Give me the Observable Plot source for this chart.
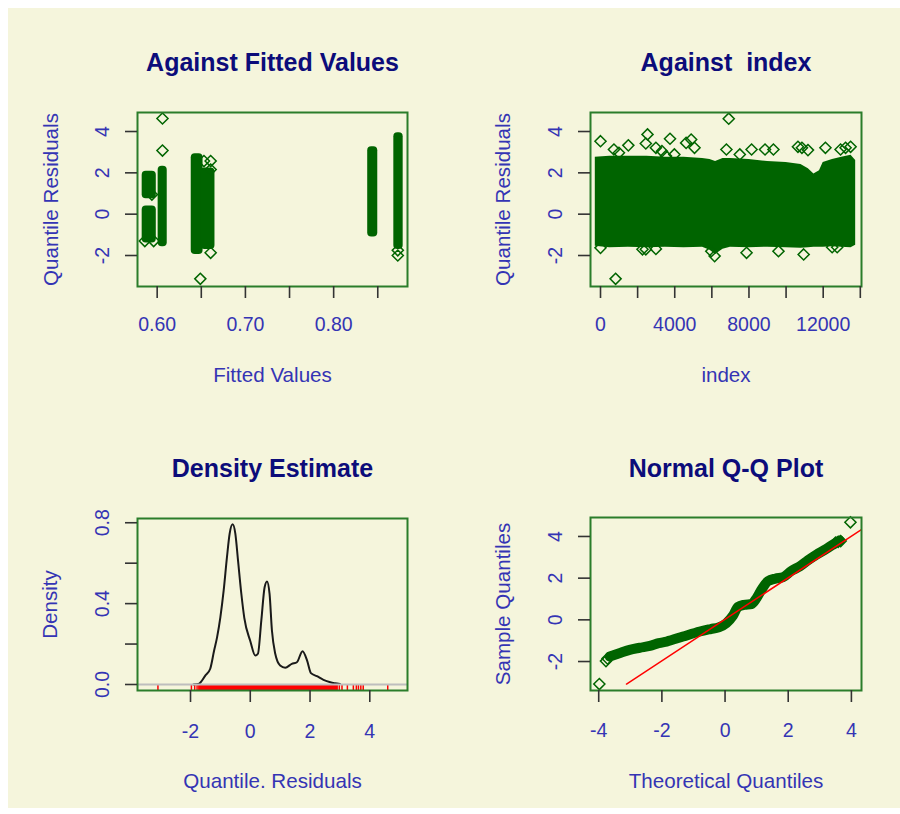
<!DOCTYPE html>
<html><head><meta charset="utf-8">
<script src="https://cdn.jsdelivr.net/npm/d3@7"></script>
<script src="https://cdn.jsdelivr.net/npm/@observablehq/plot@0.6"></script>
<style>
body{margin:0;background:#fff;}
#wrap{position:relative;width:900px;height:814px;background:#fff;overflow:hidden;}
#bg{position:absolute;left:8px;top:8px;width:892px;height:800px;background:#f5f5dc;}
</style></head><body>
<div id="wrap"><div id="bg"></div></div>
<script>
// ---------- Panel 1: Against Fitted Values ----------
const fitClusterX1 = [0.583, 0.583, 0.6011, 0.6386, 0.6495, 0.8386, 0.8682];
const fitClusterX2 = [0.599, 0.599, 0.6114, 0.6520, 0.6655, 0.8500, 0.8788];
const fitClusterY1 = [0.75, -1.39, -1.58, -1.95, -1.71, -1.11, -1.71];
const fitClusterY2 = [2.08, 0.40, 2.32, 2.92, 2.24, 3.26, 3.94];
const fitOutX = [0.606, 0.606, 0.653, 0.6606, 0.6606, 0.6606, 0.6489, 0.8727, 0.8727, 0.594, 0.586, 0.596];
const fitOutY = [4.63, 3.08, 2.57, 2.57, 2.16, -1.87, -3.13, -2.0, -1.75, 0.95, -1.30, -1.30];
const fitTicks = [0.60, 0.65, 0.70, 0.75, 0.80, 0.85];
const fitTickLabels = [0.60, 0.70, 0.80];
const residTicks = [-2, 0, 2, 4];

// ---------- Panel 2: Against index ----------
const idxBandI  = [-280, 500, 1500, 2500, 3500, 4500, 5500, 5900, 6200, 6600, 7000, 8000, 9000, 10000, 10800, 11200, 11500, 11800, 12000, 12500, 13000, 13500, 13750];
const idxBandHi = [2.75, 2.8, 2.8, 2.8, 2.75, 2.75, 2.7, 2.65, 2.55, 2.7, 2.7, 2.65, 2.55, 2.5, 2.4, 2.2, 1.95, 2.1, 2.5, 2.65, 2.75, 2.85, 2.6];
const idxBandLo = [-1.55, -1.62, -1.6, -1.62, -1.6, -1.62, -1.6, -1.75, -1.95, -1.7, -1.6, -1.62, -1.6, -1.62, -1.65, -1.62, -1.6, -1.6, -1.6, -1.58, -1.6, -1.62, -1.5];
const idxOutI = [0, 724, 993, 1500, 2442, 2533, 2985, 3310, 3528, 3745, 3980, 4613, 4885, 5066, 6784, 6910, 7506, 8141, 8865, 9318, 10640, 10854, 11180, 12120, 12935, 13206, 13477,
                 0, 2262, 2442, 2985, 5970, 6150, 7870, 9590, 10947, 12483, 12754, 814];
const idxOutY = [3.53, 3.13, 2.97, 3.33, 3.42, 3.86, 3.21, 3.05, 2.81, 3.65, 2.89, 3.45, 3.61, 3.21, 3.13, 4.62, 2.89, 3.13, 3.13, 3.13, 3.26, 3.21, 3.1, 3.21, 3.13, 3.21, 3.26,
                 -1.63, -1.7, -1.7, -1.68, -1.79, -2.03, -1.87, -1.79, -1.95, -1.6, -1.6, -3.13];
const idxTicks = [0, 2000, 4000, 6000, 8000, 10000, 12000, 14000];
const idxTickLabels = [0, 4000, 8000, 12000];

// ---------- Panel 3: Density Estimate ----------
const densX = [-1.9, -1.73, -1.5, -1.34, -1.21, -1.11, -1.0, -0.89, -0.78, -0.69, -0.59, -0.50, -0.41, -0.30, -0.2, 0.0, 0.167, 0.256, 0.37, 0.48, 0.56, 0.645, 0.725, 0.836, 1.0, 1.17, 1.39, 1.56, 1.75, 1.90, 2.03, 2.23, 2.45, 2.68, 2.84, 3.0];
const densY = [0, 0.003, 0.045, 0.078, 0.168, 0.234, 0.333, 0.465, 0.63, 0.746, 0.792, 0.746, 0.614, 0.45, 0.33, 0.215, 0.143, 0.152, 0.317, 0.481, 0.51, 0.449, 0.267, 0.152, 0.094, 0.083, 0.102, 0.11, 0.165, 0.119, 0.056, 0.041, 0.023, 0.011, 0.006, 0.002];
const rugX = [-3.09, -1.97, -1.86, -1.78, 2.98, 3.07, 3.25, 3.45, 3.55, 3.62, 3.70, 3.78, 4.6];
const rugDense = [-1.73, 2.95];
const densXTicks = [-2, 0, 2, 4];
const densYTicks = [0, 0.2, 0.4, 0.6, 0.8];
const densYTickLabels = [0, 0.4, 0.8];

// ---------- Panel 4: Normal Q-Q Plot ----------
const qqX = [-3.65, -3.3, -3.02, -2.7, -2.38, -2.1, -1.85, -1.33, -0.80, -0.45, -0.2, 0.04, 0.25, 0.41, 0.6, 0.84, 1.0, 1.15, 1.36, 1.6, 1.84, 2.1, 2.36, 2.62, 2.89, 3.2, 3.47, 3.63];
const qqY = [-1.76, -1.58, -1.44, -1.34, -1.25, -1.12, -1.04, -0.80, -0.56, -0.44, -0.36, -0.16, 0.2, 0.62, 0.72, 0.76, 1.05, 1.44, 1.86, 1.98, 2.05, 2.35, 2.56, 2.85, 3.12, 3.4, 3.66, 3.8];
const qqOutX = [-3.98, -3.77, -3.72, 3.97, 3.50, 3.58, 3.66];
const qqOutY = [-3.08, -1.98, -1.86, 4.68, 3.70, 3.74, 3.78];
const qqLineX = [-3.12, 4.32];
const qqLineY = [-3.08, 4.33];
const qqXTicks = [-4, -2, 0, 2, 4];
const qqYTicks = [-2, 0, 2, 4];

const titles = ["Against Fitted Values", "Against  index", "Density Estimate", "Normal Q-Q Plot"];
const xTitles = ["Fitted Values", "index", "Quantile. Residuals", "Theoretical Quantiles"];
const yTitles = ["Quantile Residuals", "Quantile Residuals", "Density", "Sample Quantiles"];

// ---------- rendering ----------
const FONT = "'Liberation Sans', Arial, Helvetica, sans-serif";
const TITLE_COL = "#0c0c7a";
const LAB_COL = "#3434b4";
const TICK_COL = "#333333";
const FRAME_COL = "#2a7d2a";
const PT_COL = "#006400";
const wrap = document.getElementById("wrap");

function makePanel(c) {
  const svg = Plot.plot({
    width: 450, height: 407,
    marginTop: c.mt, marginRight: c.mr, marginBottom: c.mb, marginLeft: c.ml,
    x: {domain: c.xDomain, axis: null},
    y: {domain: c.yDomain, axis: null},
    style: {background: "transparent", fontFamily: FONT, overflow: "visible"},
    marks: [
      ...c.marks,
      Plot.frame({stroke: FRAME_COL, strokeWidth: 2}),
      Plot.axisX({ticks: c.xTicks, tickSize: 12, stroke: TICK_COL, strokeWidth: 1.6,
        tickFormat: d => c.xLabels.includes(d) ? c.xFmt(d) : "",
        tickPadding: c.xTickPad, fill: LAB_COL, fontSize: 19.5, fontFamily: FONT, label: null}),
      Plot.axisY({ticks: c.yTicks, tickSize: 12, stroke: TICK_COL, strokeWidth: 1.6,
        tickFormat: () => "", label: null}),
      Plot.text(c.yLabels, {y: d => d, text: d => c.yFmt(d), frameAnchor: "left", dx: c.yTickDx,
        rotate: -90, textAnchor: "middle", lineAnchor: "bottom", fontSize: 19.5, fill: LAB_COL}),
      Plot.text([c.title], {text: d => d, frameAnchor: "top", dy: c.titleDy, lineAnchor: "bottom",
        fontSize: 25, fontWeight: "bold", fill: TITLE_COL}),
      Plot.text([c.xTitle], {text: d => d, frameAnchor: "bottom", dy: c.xTitleDy, lineAnchor: "bottom",
        fontSize: 20.6, fill: LAB_COL}),
      Plot.text([c.yTitle], {text: d => d, frameAnchor: "left", dx: c.yTitleDx, rotate: -90,
        lineAnchor: "bottom", textAnchor: "middle", fontSize: 20.6, fill: LAB_COL})
    ]
  });
  svg.style.position = "absolute";
  svg.style.left = c.left + "px";
  svg.style.top = c.top + "px";
  wrap.appendChild(svg);
}

const diamond = {symbol: "diamond2", r: 5, stroke: PT_COL, strokeWidth: 1.5, fill: "none"};

// Panel 1
const clusters = fitClusterX1.map((x1, i) => ({x1, x2: fitClusterX2[i], y1: fitClusterY1[i], y2: fitClusterY2[i]}));
const fitOut = fitOutX.map((x, i) => ({x, y: fitOutY[i]}));
makePanel({
  left: 0, top: 0, mt: 112, mr: 43, mb: 121, ml: 137,
  xDomain: [0.5777, 0.8837], yDomain: [-3.5, 4.92],
  xTicks: fitTicks, xLabels: fitTickLabels, xFmt: d3.format(".2f"),
  yTicks: residTicks, yLabels: residTicks, yFmt: d => String(d),
  title: titles[0], xTitle: xTitles[0], yTitle: yTitles[0],
  xTickPad: 18.8, yTickDx: -28.7, titleDy: -41.5, xTitleDy: 95, yTitleDx: -80,
  marks: [
    Plot.rect(clusters, {x1: "x1", x2: "x2", y1: "y1", y2: "y2", fill: PT_COL, rx: 4}),
    Plot.dot(fitOut, {x: "x", y: "y", ...diamond})
  ]
});

// Panel 2
const band = idxBandI.map((i, k) => ({i, lo: idxBandLo[k], hi: idxBandHi[k]}));
const idxOut = idxOutI.map((x, k) => ({x, y: idxOutY[k]}));
makePanel({
  left: 450, top: 0, mt: 112, mr: 39, mb: 121, ml: 140,
  xDomain: [-539, 14064], yDomain: [-3.5, 4.92],
  xTicks: idxTicks, xLabels: idxTickLabels, xFmt: d => String(d),
  yTicks: residTicks, yLabels: residTicks, yFmt: d => String(d),
  title: titles[1], xTitle: xTitles[1], yTitle: yTitles[1],
  xTickPad: 18.8, yTickDx: -29, titleDy: -41.5, xTitleDy: 95, yTitleDx: -80.5,
  marks: [
    Plot.areaY(band, {x: "i", y1: "lo", y2: "hi", fill: PT_COL}),
    Plot.dot(idxOut, {x: "x", y: "y", ...diamond})
  ]
});

// Panel 3
const dens = densX.map((x, i) => ({x, y: densY[i]}));
makePanel({
  left: 0, top: 407, mt: 111, mr: 43, mb: 124, ml: 137,
  xDomain: [-3.774, 5.262], yDomain: [-0.0297, 0.821],
  xTicks: densXTicks, xLabels: densXTicks, xFmt: d => String(d),
  yTicks: densYTicks, yLabels: densYTickLabels, yFmt: d3.format(".1f"),
  title: titles[2], xTitle: xTitles[2], yTitle: yTitles[2],
  xTickPad: 21.5, yTickDx: -28.7, titleDy: -42, xTitleDy: 97.7, yTitleDx: -80.5,
  marks: [
    Plot.rect([rugDense], {x1: d => d[0], x2: d => d[1], y1: -0.0297, y2: 0, fill: "#ff0000"}),
    Plot.ruleX(rugX, {x: d => d, y1: -0.0297, y2: 0, stroke: "#ff0000", strokeWidth: 1.5}),
    Plot.line(dens, {x: "x", y: "y", stroke: "#1a1a1a", strokeWidth: 2, curve: "monotone-x"}),
    Plot.ruleY([0], {stroke: "#bebebe", strokeWidth: 2})
  ]
});

// Panel 4
const qq = qqX.map((x, i) => ({x, y: qqY[i]}));
const qqOut = qqOutX.map((x, i) => ({x, y: qqOutY[i]}));
const qqLine = qqLineX.map((x, i) => ({x, y: qqLineY[i]}));
makePanel({
  left: 450, top: 407, mt: 110, mr: 39, mb: 124, ml: 140,
  xDomain: [-4.26, 4.32], yDomain: [-3.39, 4.91],
  xTicks: qqXTicks, xLabels: qqXTicks, xFmt: d => String(d),
  yTicks: qqYTicks, yLabels: qqYTicks, yFmt: d => String(d),
  title: titles[3], xTitle: xTitles[3], yTitle: yTitles[3],
  xTickPad: 20.8, yTickDx: -28.6, titleDy: -40.3, xTitleDy: 97.7, yTitleDx: -80.5,
  marks: [
    Plot.line(qq, {x: "x", y: "y", stroke: PT_COL, strokeWidth: 10, strokeLinecap: "round", strokeLinejoin: "round", curve: "monotone-x"}),
    Plot.dot(qqOut, {x: "x", y: "y", ...diamond}),
    Plot.line(qqLine, {x: "x", y: "y", stroke: "#ff0000", strokeWidth: 1.5, clip: true})
  ]
});
</script>
</body></html>
